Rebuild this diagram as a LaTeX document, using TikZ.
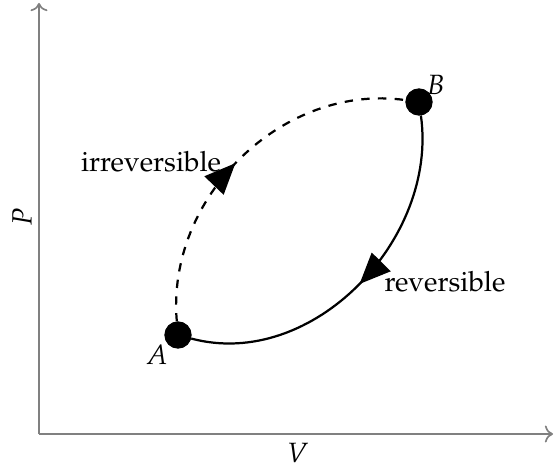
\documentclass[tikz,border=0pt]{standalone}
\usepackage[T1]{fontenc}
\usepackage{mathpazo}
\usetikzlibrary{positioning,arrows.meta,decorations.markings}
\tikzset{
    assi/.style={gray, semithick},
    curva/.style={thick},
    punto/.style={draw, circle, fill=black, minimum size=0.33cm, inner sep=0pt},
    etichetta/.style={inner sep=1pt},
    freccia/.style={decoration={markings, mark=at position #1 with {\arrow{Triangle[length=0.39cm, width=0.33cm]}}}, postaction={decorate}}
}
\begin{document}
\begin{tikzpicture}[x=0.0126cm, y=0.0126cm]
    \useasboundingbox (0,0) rectangle (554,467);
    %disegno assi
    \coordinate (O) at (39,33);
    \coordinate (Ptop) at (39,464);
    \coordinate (Vend) at (553,33);
    \draw[assi,->] (O) -- (Ptop);
    \draw[assi,->] (O) -- (Vend);
    %label assi
    \node[rotate=90] (labP) at (22,250) {$P$};
    \node (labV) at (298,14) {$V$};
    
    %stati A e B
    \node[punto] (A) at (178,132) {};
    \node[punto] (B) at (419,365) {};
    \node[etichetta, below left=-1pt and -1pt of A] (labA) {$A$};
    \node[etichetta, above right=-2pt and -2pt of B] (labB) {$B$};
    
    %trasformazione irreversibile
    \draw[curva, dashed, freccia=0.48] (A) to[out=95, in=172] (B);
    %trasformazione reversibile
    \draw[curva, freccia=0.5] (B) to[out=-82, in=-15] (A);
    %label trasformazioni
    \node (irr) at (151,305) {irreversible};
    \node (rev) at (445,185) {reversible};
    
\end{tikzpicture}
\end{document}
